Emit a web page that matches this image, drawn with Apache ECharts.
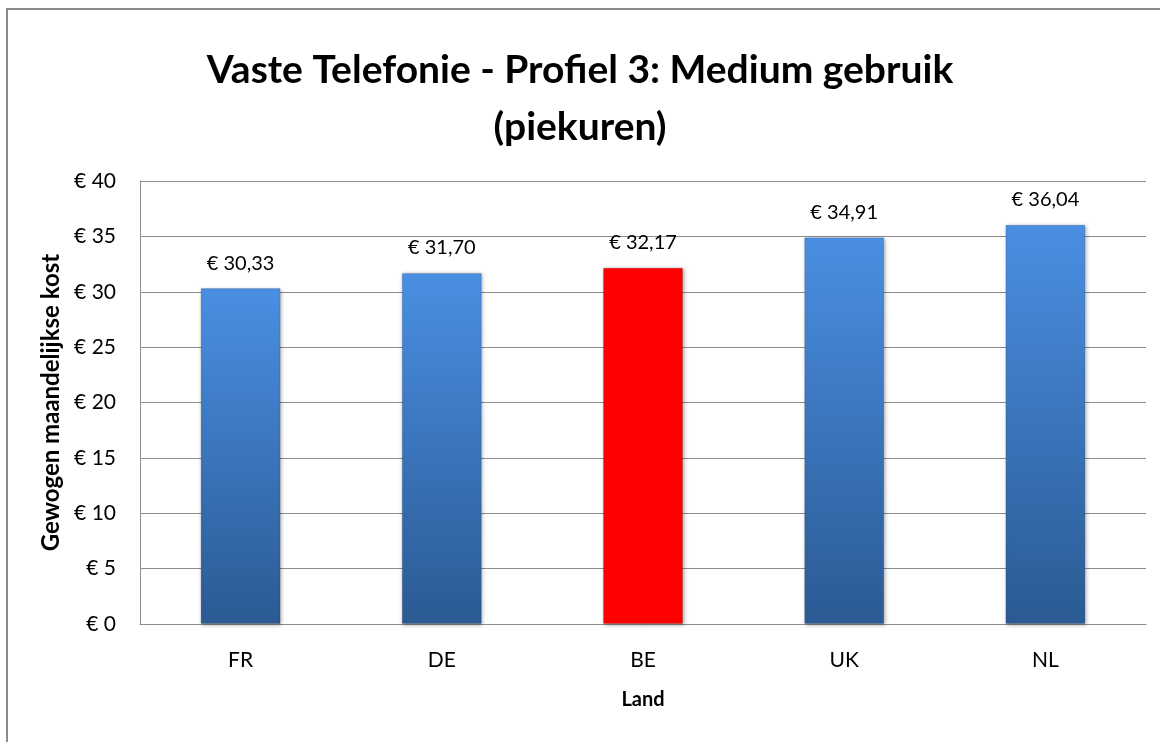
<!DOCTYPE html>
<html>
<head>
<meta charset="utf-8">
<script src="https://cdn.jsdelivr.net/npm/echarts@6/dist/echarts.min.js"></script>
<style>
  html, body { margin: 0; padding: 0; background: #fff; }
  #chart { width: 1160px; height: 742px; }
</style>
</head>
<body>
<div id="chart"></div>
<script>
const countries = ['FR', 'DE', 'BE', 'UK', 'NL'];
const costs = [30.33, 31.70, 32.17, 34.91, 36.04];
const highlight = 'BE';

const font = 'Lato';
const euro = (v) => '€ ' + v;
const euroCents = (v) => '€ ' + v.toFixed(2).replace('.', ',');

const blueFill = new echarts.graphic.LinearGradient(0, 0, 0, 1, [
  { offset: 0, color: '#4a8fe3' },
  { offset: 1, color: '#2b5a93' },
]);
const redFill = '#ff0000';

const chart = echarts.init(document.getElementById('chart'));

const option = {
  animation: false,
  backgroundColor: '#fff',
  title: {
    text: 'Vaste Telefonie - Profiel 3: Medium gebruik\n(piekuren)',
    left: 'center',
    top: 37,
    textStyle: {
      fontFamily: font,
      fontWeight: 'bold',
      fontSize: 39,
      lineHeight: 57,
      color: '#000',
    },
  },
  graphic: [
    {
      type: 'rect',
      shape: { x: 7, y: 9, width: 1200, height: 800 },
      style: { fill: 'none', stroke: '#8a8a8a', lineWidth: 2 },
      silent: true,
    },
  ],
  grid: {
    left: 140,
    right: 14,
    top: 181,
    bottom: 118,
  },
  xAxis: {
    type: 'category',
    data: countries,
    name: 'Land',
    nameLocation: 'middle',
    nameGap: 66,
    nameTextStyle: { fontFamily: font, fontWeight: 'bold', fontSize: 20, color: '#000' },
    axisLine: { lineStyle: { color: '#8c8c8c', width: 1 } },
    axisTick: { show: false },
    axisLabel: { fontFamily: font, fontSize: 21, color: '#000', margin: 26 },
  },
  yAxis: {
    type: 'value',
    min: 0,
    max: 40,
    interval: 5,
    name: 'Gewogen maandelijkse kost',
    nameLocation: 'middle',
    nameGap: 74,
    nameTextStyle: { fontFamily: font, fontWeight: 'bold', fontSize: 24, color: '#000' },
    axisLine: { show: true, lineStyle: { color: '#8c8c8c', width: 1 } },
    axisTick: { show: false },
    axisLabel: { fontFamily: font, fontSize: 21, color: '#000', margin: 24, formatter: euro },
    splitLine: { lineStyle: { color: '#8c8c8c', width: 1 } },
  },
  series: [
    {
      type: 'bar',
      barWidth: 80,
      data: costs.map((v, i) => ({
        value: v,
        itemStyle: { color: countries[i] === highlight ? redFill : blueFill },
      })),
      itemStyle: {
        borderColor: 'rgba(0,0,0,0.12)',
        borderWidth: 1,
        shadowColor: 'rgba(0,0,0,0.35)',
        shadowBlur: 4,
        shadowOffsetX: 1,
        shadowOffsetY: 1,
      },
      label: {
        show: true,
        position: 'top',
        distance: 15,
        fontFamily: font,
        fontSize: 20,
        color: '#000',
        formatter: (p) => euroCents(p.value),
      },
    },
  ],
};

chart.setOption(option);
</script>
</body>
</html>
